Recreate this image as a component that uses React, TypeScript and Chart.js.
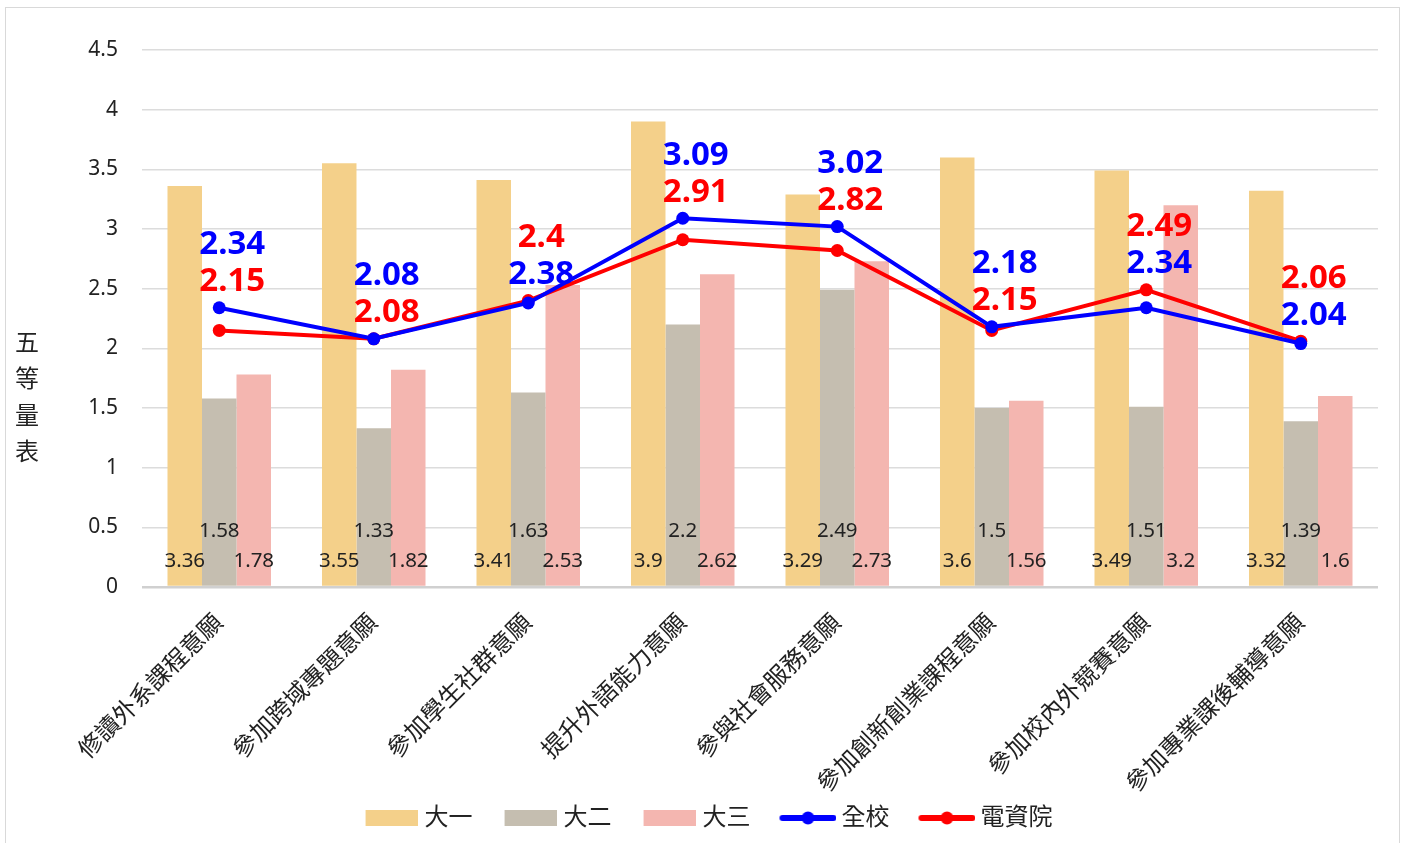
import React, { useEffect, useRef } from "react";
import { Chart, registerables } from "chart.js";

Chart.register(...registerables);

const categories = [
  "修讀外系課程意願",
  "參加跨域專題意願",
  "參加學生社群意願",
  "提升外語能力意願",
  "參與社會服務意願",
  "參加創新創業課程意願",
  "參加校內外競賽意願",
  "參加專業課後輔導意願",
];
const year1 = [3.36, 3.55, 3.41, 3.9, 3.29, 3.6, 3.49, 3.32];
const year2 = [1.58, 1.33, 1.63, 2.2, 2.49, 1.5, 1.51, 1.39];
const year3 = [1.78, 1.82, 2.53, 2.62, 2.73, 1.56, 3.2, 1.6];
const allSchool = [2.34, 2.08, 2.38, 3.09, 3.02, 2.18, 2.34, 2.04];
const eecs = [2.15, 2.08, 2.4, 2.91, 2.82, 2.15, 2.49, 2.06];
const seriesNames = ["大一", "大二", "大三", "全校", "電資院"];
const yTitleChars = ["五", "等", "量", "表"];

const C1 = "#F4D08A";
const C2 = "#C5BEB0";
const C3 = "#F4B6B0";
const BLUE = "#0000FF";
const RED = "#FF0000";
const FONT = "'Noto Sans', 'Noto Sans CJK TC', sans-serif";
const TEXT = "#222222";

const ICON_SLOT = 69;

// legend icons: transparent on the left, visible mark hugging the right edge
function makeBox(color: string) {
  const c = document.createElement("canvas");
  const W = ICON_SLOT + 10;
  c.width = W;
  c.height = 16;
  const g = c.getContext("2d")!;
  g.fillStyle = color;
  g.fillRect(W - 52, 0, 52, 16);
  return c;
}
function makeLine(color: string) {
  const c = document.createElement("canvas");
  const W = ICON_SLOT + 14;
  c.width = W;
  c.height = 16;
  const g = c.getContext("2d")!;
  const x0 = W - 57;
  g.strokeStyle = color;
  g.lineWidth = 6;
  g.lineCap = "round";
  g.beginPath();
  g.moveTo(x0 + 3, 8);
  g.lineTo(W - 3, 8);
  g.stroke();
  g.fillStyle = color;
  g.beginPath();
  g.arc(x0 + 28.5, 8, 6.5, 0, Math.PI * 2);
  g.fill();
  return c;
}

const labelPlugin = {
  id: "valueLabels",
  afterDatasetsDraw(chart: any) {
    const ctx = chart.ctx;
    const yS = chart.scales.y;
    const base = yS.getPixelForValue(0);
    ctx.save();
    ctx.textAlign = "center";
    ctx.textBaseline = "middle";
    // bar labels
    ctx.font = `20.5px ${FONT}`;
    ctx.fillStyle = TEXT;
    [0, 1, 2].forEach((di) => {
      const meta = chart.getDatasetMeta(di);
      const vals = chart.data.datasets[di].data;
      meta.data.forEach((el: any, i: number) => {
        const y = di === 1 ? base - 56 : base - 26;
        ctx.fillText(String(vals[i]), el.x, y);
      });
    });
    // line labels
    ctx.font = `bold 33px ${FONT}`;
    const mA = chart.getDatasetMeta(3);
    for (let i = 0; i < categories.length; i++) {
      const a = allSchool[i];
      const b = eecs[i];
      const topIsA = a >= b;
      const topV = Math.max(a, b);
      const topY = yS.getPixelForValue(topV) - 63;
      const lowY = topY + 37;
      const x = mA.data[i].x + 13;
      ctx.fillStyle = topIsA ? BLUE : RED;
      ctx.fillText(String(topIsA ? a : b), x, topY);
      ctx.fillStyle = topIsA ? RED : BLUE;
      ctx.fillText(String(topIsA ? b : a), x, lowY);
    }
    // y title
    ctx.font = `24px ${FONT}`;
    ctx.fillStyle = TEXT;
    yTitleChars.forEach((ch, k) => {
      ctx.fillText(ch, 27, 344 + k * 36.5);
    });
    ctx.restore();
  },
};

export default function App() {
  const ref = useRef<HTMLCanvasElement | null>(null);
  useEffect(() => {
    document.body.style.margin = "0";
    const icons = [makeBox(C1), makeBox(C2), makeBox(C3), makeLine(BLUE), makeLine(RED)];
    const barCommon = { categoryPercentage: 0.67, barPercentage: 1, order: 2 };
    const lineCommon = {
      type: "line" as const,
      borderWidth: 4,
      pointRadius: 6.5,
      pointBorderWidth: 0,
      pointHoverRadius: 6.5,
      order: 0,
      tension: 0,
    };
    const padLeft = 18;
    const chart = new Chart(ref.current!, {
      type: "bar",
      data: {
        labels: categories,
        datasets: [
          { ...barCommon, type: "bar", label: seriesNames[0], data: year1, backgroundColor: C1 },
          { ...barCommon, type: "bar", label: seriesNames[1], data: year2, backgroundColor: C2 },
          { ...barCommon, type: "bar", label: seriesNames[2], data: year3, backgroundColor: C3 },
          { ...lineCommon, label: seriesNames[3], data: allSchool, borderColor: BLUE, backgroundColor: BLUE, pointBackgroundColor: BLUE },
          { ...lineCommon, label: seriesNames[4], data: eecs, borderColor: RED, backgroundColor: RED, pointBackgroundColor: RED },
        ] as any,
      },
      options: {
        responsive: false,
        animation: false,
        layout: { padding: { top: 50, right: 29, bottom: 3, left: padLeft } },
        scales: {
          x: {
            grid: { display: false },
            border: { display: false },
            ticks: {
              autoSkip: false,
              minRotation: 45,
              maxRotation: 45,
              padding: 14,
              color: TEXT,
              font: { family: FONT, size: 24 },
            },
            afterFit: (s: any) => {
              s.height = 209;
            },
          },
          y: {
            min: 0,
            max: 4.5,
            ticks: {
              stepSize: 0.5,
              padding: 24,
              color: TEXT,
              font: { family: FONT, size: 21 },
              callback: (v: any) => String(v),
            },
            grid: {
              drawTicks: false,
              color: (c: any) => (c.tick && c.tick.value === 0 ? "#d0d0d0" : "#dcdcdc"),
              lineWidth: (c: any) => (c.tick && c.tick.value === 0 ? 2.5 : 1.5),
            },
            border: { display: false },
            afterFit: (s: any) => {
              s.width = 142 - padLeft;
            },
          },
        },
        plugins: {
          tooltip: { enabled: false },
          legend: {
            position: "bottom",
            labels: {
              usePointStyle: true,
              pointStyleWidth: ICON_SLOT,
              boxHeight: 16,
              padding: 10,
              color: TEXT,
              font: { family: FONT, size: 24 },
              sort: (a: any, b: any) => a.datasetIndex - b.datasetIndex,
              generateLabels: (ch: any) =>
                Chart.defaults.plugins.legend.labels
                  .generateLabels(ch)
                  .map((it: any) => ({ ...it, pointStyle: icons[it.datasetIndex] })),
            },
          },
        },
      },
      plugins: [labelPlugin],
    });
    return () => chart.destroy();
  }, []);
  return (
    <div style={{ position: "fixed", left: 0, top: 0, width: 1407, height: 843, background: "#fff", overflow: "hidden" }}>
      <div
        style={{
          position: "absolute",
          left: 5,
          top: 7,
          width: 1395,
          height: 900,
          border: "1.5px solid #d9d9d9",
          boxSizing: "border-box",
        }}
      />
      <canvas ref={ref} width={1407} height={843} style={{ position: "absolute", left: 0, top: 0 }} />
    </div>
  );
}
